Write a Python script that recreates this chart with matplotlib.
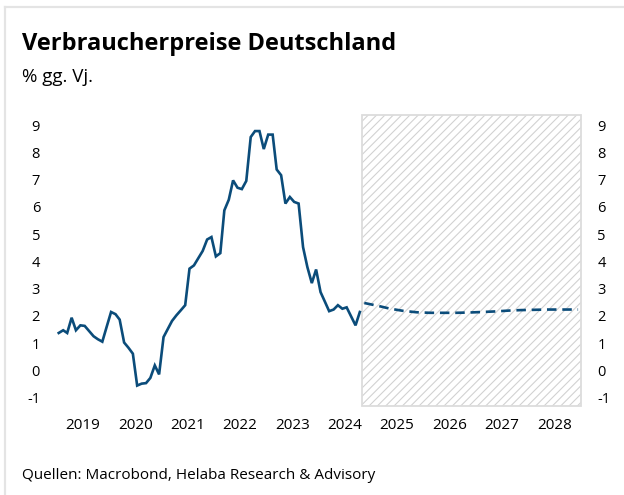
import matplotlib
matplotlib.use("Agg")
import matplotlib.pyplot as plt
import matplotlib.dates as mdates
from matplotlib.lines import Line2D
from matplotlib.patches import Rectangle
import pandas as pd

plt.rcParams['font.family'] = ['Open Sans', 'DejaVu Sans']
plt.rcParams['axes.unicode_minus'] = False
plt.rcParams['hatch.linewidth'] = 0.8

# ---- data ----
title = "Verbraucherpreise Deutschland"
subtitle = "% gg. Vj."
source = "Quellen: Macrobond, Helaba Research & Advisory"

actual_start = "2019-01"
cpi_2019 = [1.37, 1.47, 1.37, 1.93, 1.47, 1.65, 1.63, 1.44, 1.25, 1.14, 1.05, 1.59]
cpi_2020 = [2.14, 2.06, 1.86, 1.02, 0.83, 0.61, -0.56, -0.49, -0.47, -0.28, 0.18, -0.15]
cpi_2021 = [1.22, 1.53, 1.81, 2.02, 2.20, 2.39, 3.73, 3.85, 4.12, 4.38, 4.80, 4.89]
cpi_2022 = [4.18, 4.30, 5.87, 6.26, 6.97, 6.70, 6.65, 6.95, 8.56, 8.78, 8.78, 8.12]
cpi_2023 = [8.65, 8.65, 7.37, 7.16, 6.12, 6.36, 6.18, 6.12, 4.52, 3.79, 3.20, 3.70]
cpi_2024 = [2.87, 2.51, 2.17, 2.23, 2.39, 2.26, 2.31, 1.98, 1.65, 2.14]

fc_months = ['2024-11', '2025-02', '2025-05', '2025-08', '2025-11', '2026-02',
             '2026-05', '2026-08', '2026-11', '2027-02', '2027-05', '2027-08',
             '2027-11', '2028-02', '2028-05', '2028-08', '2028-12']
fc_values = [2.47, 2.37, 2.26, 2.18, 2.13, 2.11, 2.11, 2.11, 2.12, 2.14,
             2.16, 2.19, 2.21, 2.22, 2.23, 2.23, 2.23]

forecast_area = ("2024-11-01", "2029-01-01")
yticks = [-1, 0, 1, 2, 3, 4, 5, 6, 7, 8, 9]
years = list(range(2019, 2029))

# ---- build series ----
actual_vals = cpi_2019 + cpi_2020 + cpi_2021 + cpi_2022 + cpi_2023 + cpi_2024
actual_dates = pd.date_range(actual_start + "-01", periods=len(actual_vals), freq="MS") + pd.Timedelta(days=14)
fc_dates = pd.to_datetime([m + "-15" for m in fc_months])

color = "#0B4C7A"

fig = plt.figure(figsize=(6.24, 4.95), dpi=100)
ax = fig.add_axes([0.0909, 0.1798, 0.8394, 0.5879])

# forecast area
x0 = mdates.date2num(pd.Timestamp(forecast_area[0]))
x1 = mdates.date2num(pd.Timestamp(forecast_area[1]))
ylim = (-1.31, 9.37)
ax.add_patch(Rectangle((x0, ylim[0]), x1 - x0, ylim[1] - ylim[0], facecolor="white",
                       edgecolor="#d2d2d2", hatch="////", linewidth=0, zorder=1))
ax.add_patch(Rectangle((x0, ylim[0]), x1 - x0, ylim[1] - ylim[0], facecolor="none",
                       edgecolor="#dcdcdc", linewidth=1.3, zorder=2, clip_on=False))

ax.plot(actual_dates, actual_vals, color=color, lw=1.9, zorder=3,
        solid_joinstyle="miter")
ax.plot(fc_dates, fc_values, color=color, lw=1.9, zorder=3,
        dashes=(3.6, 2.2))

ax.set_xlim(pd.Timestamp("2019-01-01"), pd.Timestamp("2029-01-01"))
ax.set_ylim(*ylim)

ax.set_yticks(yticks)
ax.set_yticklabels([str(v) for v in yticks])
ax.tick_params(axis="y", left=False, right=False, labelleft=True, labelright=True,
               labelsize=10.5, pad=8.5)

ax.set_xticks([mdates.date2num(pd.Timestamp(f"{y}-07-02")) for y in years])
ax.set_xticklabels([str(y) for y in years])
ax.tick_params(axis="x", bottom=False, labelsize=11, pad=5)

for s in ax.spines.values():
    s.set_visible(False)

fig.text(22 / 624, 1 - 50 / 495, title, fontsize=17, fontweight="bold",
         ha="left", va="baseline")
fig.text(22.5 / 624, 1 - 81.5 / 495, subtitle, fontsize=13.5, ha="left", va="baseline")
fig.text(22.5 / 624, 1 - 479 / 495, source, fontsize=11, ha="left", va="baseline")

# light frame around the chart (top and left edges visible)
fx = 5 / 624
fy = 1 - 7 / 495
fig.add_artist(Line2D([fx, 1.0], [fy, fy], transform=fig.transFigure, color="#e4e4e4", lw=1.6))
fig.add_artist(Line2D([fx, fx], [0.0, fy], transform=fig.transFigure, color="#e4e4e4", lw=1.6))

fig.savefig("out.png", dpi=100)
